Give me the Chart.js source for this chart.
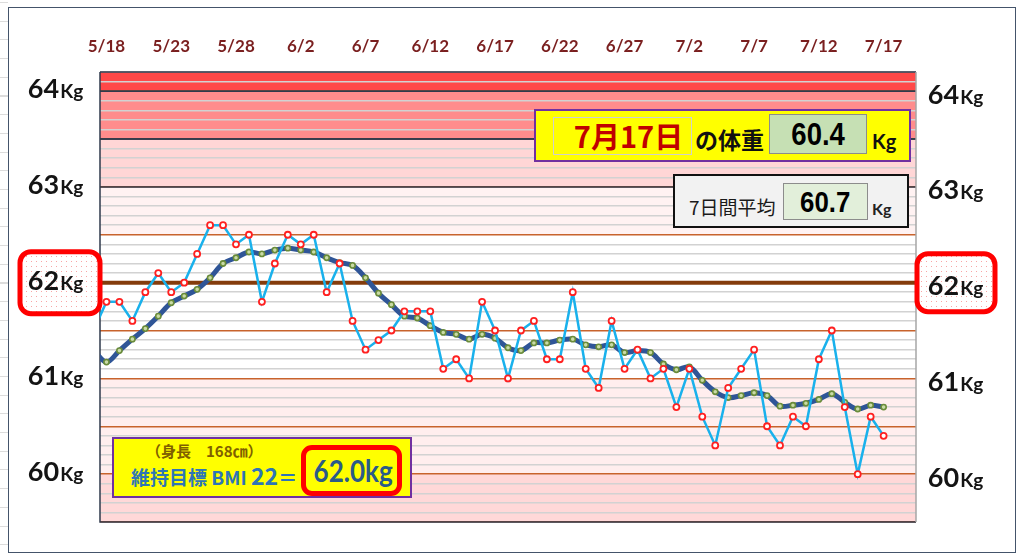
<!DOCTYPE html>
<html lang="ja">
<head>
<meta charset="utf-8">
<title>体重グラフ</title>
<script src="https://cdn.jsdelivr.net/npm/chart.js@4.4.1/dist/chart.umd.min.js"></script>
<style>
  body { margin: 0; background: #fff; }
  #wrap { position: relative; width: 1024px; height: 560px; overflow: hidden; font-family: "Noto Sans CJK JP", sans-serif; }
  #sheet { position: absolute; left: 0; top: 0; width: 8px; height: 560px;
    background: repeating-linear-gradient(to bottom, #dcdcdc 0 1px, transparent 1px 18.7px); background-position: 0 2px; }
  #frame { position: absolute; left: 8px; top: 7px; width: 1006px; height: 544px; border: 1.5px solid #44546a; }
  canvas { position: absolute; left: 0; top: 0; }
  .b { position: absolute; box-sizing: border-box; }
  .t { position: absolute; white-space: nowrap; }
  .num { font-family: "Liberation Sans", sans-serif; font-weight: bold; color: #000; text-align: center; }
  .num span { display: inline-block; transform: scaleX(0.86); }
</style>
</head>
<body>
<div id="wrap">
  <div id="sheet"></div>
  <div id="frame"></div>
  <canvas id="weight-chart" width="1024" height="560"></canvas>

  <!-- today's weight -->
  <div class="b" style="left:534px;top:109px;width:377px;height:53px;background:#ffff00;border:2px solid #7030a0;"></div>
  <div class="b t" style="left:553px;top:117px;width:139px;height:38px;border:1.5px solid #cfcfcf;line-height:35px;padding-left:12px;text-align:center;font-size:29px;font-weight:bold;color:#c00000;">7月17日</div>
  <div class="t" style="left:695px;top:124px;height:30px;line-height:30px;font-size:23px;font-weight:bold;color:#111;">の体重</div>
  <div class="b t num" style="left:769px;top:114px;width:98px;height:40px;background:#c6e0b4;border:1px solid #8c8c8c;line-height:38px;font-size:32px;"><span id="todayVal"></span></div>
  <div class="t" style="left:872px;top:128px;height:26px;line-height:26px;font-size:20px;font-weight:bold;color:#111;font-family:Lato,sans-serif;">Kg</div>

  <!-- 7 day average -->
  <div class="b" style="left:673px;top:174px;width:236px;height:54px;background:#f2f2f2;border:2.5px solid #111;"></div>
  <div class="t" style="left:689px;top:194px;height:26px;line-height:26px;font-size:19px;color:#1a1a1a;">7日間平均</div>
  <div class="b t num" style="left:783px;top:183px;width:85px;height:37px;background:#e2efda;border:1px solid #8c8c8c;line-height:35px;font-size:30px;"><span id="avgVal"></span></div>
  <div class="t" style="left:872px;top:199px;height:20px;line-height:20px;font-size:16px;font-weight:bold;color:#222;font-family:Lato,sans-serif;">Kg</div>

  <!-- BMI goal -->
  <div class="b" style="left:112px;top:437px;width:300px;height:61px;background:#ffff00;border:2px solid #7030a0;"></div>
  <div class="t" style="left:146px;top:441px;height:20px;line-height:20px;font-size:15px;font-weight:bold;color:#7f6000;">（身長　168㎝）</div>
  <div class="t" style="left:131px;top:460px;height:30px;line-height:30px;font-weight:bold;color:#2e75b6;font-size:19px;">維持目標 BMI <span style="font-size:23px;">22</span>＝</div>
  <div class="b t" style="left:301px;top:445px;width:101px;height:51px;border:5px solid #ff0000;border-radius:11px;line-height:40px;text-align:center;font-size:31px;font-weight:bold;color:#2a5b88;font-family:Lato,sans-serif;"><span style="display:inline-block;transform:scaleX(0.84);">62.0kg</span></div>
</div>

<script>
// dates 5/17 - 7/17 (5/17 sits just left of the plot)
const days = [
  "5/17","5/18","5/19","5/20","5/21","5/22","5/23","5/24","5/25","5/26","5/27","5/28","5/29","5/30","5/31",
  "6/1","6/2","6/3","6/4","6/5","6/6","6/7","6/8","6/9","6/10","6/11","6/12","6/13","6/14","6/15",
  "6/16","6/17","6/18","6/19","6/20","6/21","6/22","6/23","6/24","6/25","6/26","6/27","6/28","6/29","6/30",
  "7/1","7/2","7/3","7/4","7/5","7/6","7/7","7/8","7/9","7/10","7/11","7/12","7/13","7/14","7/15","7/16","7/17"
];
// daily weight (kg)
const weights = [
  61.5, 61.8, 61.8, 61.6, 61.9, 62.1, 61.9, 62.0, 62.3, 62.6, 62.6, 62.4, 62.5, 61.8, 62.2,
  62.5, 62.4, 62.5, 61.9, 62.2, 61.6, 61.3, 61.4, 61.5, 61.7, 61.7, 61.7, 61.1, 61.2, 61.0,
  61.8, 61.5, 61.0, 61.5, 61.6, 61.2, 61.2, 61.9, 61.1, 60.9, 61.6, 61.1, 61.3, 61.0, 61.1,
  60.7, 61.1, 60.6, 60.3, 60.9, 61.1, 61.3, 60.5, 60.3, 60.6, 60.5, 61.2, 61.5, 60.7, 60.0, 60.6, 60.4
];
// 7 day average (kg)
const avg7 = [
  61.30, 61.17, 61.29, 61.41, 61.52, 61.65, 61.79, 61.86, 61.93, 62.05, 62.20, 62.26, 62.32, 62.30, 62.34,
  62.36, 62.34, 62.32, 62.26, 62.21, 62.18, 62.05, 61.89, 61.77, 61.65, 61.63, 61.55, 61.48, 61.46, 61.41,
  61.46, 61.42, 61.32, 61.29, 61.37, 61.37, 61.40, 61.41, 61.35, 61.33, 61.35, 61.27, 61.29, 61.27, 61.15,
  61.09, 61.12, 60.98, 60.86, 60.80, 60.82, 60.85, 60.82, 60.71, 60.72, 60.74, 60.78, 60.84, 60.75, 60.68, 60.72, 60.70
];
const xTickLabels = ["5/18","5/23","5/28","6/2","6/7","6/12","6/17","6/22","6/27","7/2","7/7","7/12","7/17"];
const kgTicks = [64, 63, 62, 61, 60];
const goalKg = 62;

document.getElementById("todayVal").textContent = weights[weights.length - 1].toFixed(1);
document.getElementById("avgVal").textContent = avg7[avg7.length - 1].toFixed(1);

// coloured zones behind the grid [from, to, fill, dark edge]
const zones = [
  [64.0, 64.2, "#ff4848", true],
  [63.5, 64.0, "#ff8c8c", true],
  [63.0, 63.5, "#ffd6d6", true],
  [62.5, 63.0, "#fff2f2", false],
  [60.0, 61.0, "#ffeeee", false],
  [59.5, 60.0, "#ffd8d8", false]
];

const zonePlugin = {
  id: "zones",
  beforeDraw(chart) {
    const c = chart.ctx, a = chart.chartArea, y = chart.scales.y;
    zones.forEach(z => {
      const top = y.getPixelForValue(z[1]), bot = y.getPixelForValue(z[0]);
      c.fillStyle = z[2];
      c.fillRect(a.left, top, a.right - a.left, bot - top);
    });
  },
  beforeDatasetsDraw(chart) {
    const c = chart.ctx, a = chart.chartArea, y = chart.scales.y;
    c.save();
    c.strokeStyle = "#2f3a4c";
    c.lineWidth = 1.5;
    zones.forEach(z => {
      if (!z[3]) return;
      [z[0], z[1]].forEach(v => {
        const py = y.getPixelForValue(v);
        c.beginPath(); c.moveTo(a.left, py); c.lineTo(a.right, py); c.stroke();
      });
    });
    // plot frame
    c.beginPath(); c.moveTo(a.left, a.top); c.lineTo(a.left, a.bottom); c.lineTo(a.right, a.bottom); c.stroke();
    c.strokeStyle = "#a6a6a6";
    c.beginPath(); c.moveTo(a.right, a.top); c.lineTo(a.right, a.bottom); c.stroke();
    // goal line
    const gy = y.getPixelForValue(goalKg);
    c.strokeStyle = "#843c0c";
    c.lineWidth = 4;
    c.beginPath(); c.moveTo(a.left - 3, gy); c.lineTo(a.right + 4, gy); c.stroke();
    c.restore();
  }
};

function dotPattern(c) {
  const p = document.createElement("canvas");
  p.width = 5; p.height = 5;
  const pc = p.getContext("2d");
  pc.fillStyle = "#fff"; pc.fillRect(0, 0, 5, 5);
  pc.fillStyle = "#f7a6a6"; pc.fillRect(1, 1, 1, 1);
  return c.createPattern(p, "repeat");
}

function goalBox(c, x, y, w, h) {
  c.save();
  c.beginPath();
  c.roundRect(x, y, w, h, 11);
  c.fillStyle = dotPattern(c);
  c.fill();
  c.lineWidth = 5;
  c.strokeStyle = "#ff0000";
  c.stroke();
  c.restore();
}

function kgLabel(c, cx, base, v) {
  const big = "bold 27px Lato", small = "bold 19px Lato";
  const s1 = String(v), s2 = "Kg";
  c.font = big; const w1 = c.measureText(s1).width;
  c.font = small; const w2 = c.measureText(s2).width;
  const x0 = cx - (w1 + w2) / 2;
  c.fillStyle = "#141414";
  c.textBaseline = "alphabetic";
  c.textAlign = "left";
  c.font = big; c.fillText(s1, x0, base);
  c.font = small; c.fillText(s2, x0 + w1 + 1, base);
}

const labelPlugin = {
  id: "labels",
  afterDraw(chart) {
    const c = chart.ctx, x = chart.scales.x, y = chart.scales.y;
    c.save();
    kgTicks.forEach(v => {
      const py = y.getPixelForValue(v);
      if (v === goalKg) {
        goalBox(c, 20, py - 31, 80, 62);
        goalBox(c, 917, py - 29, 78, 58);
      }
      kgLabel(c, 55, py + 7, v);
      kgLabel(c, 955, py + 12.5, v);
    });
    c.font = "bold 17px Lato";
    c.fillStyle = "#7a1f1f";
    c.textAlign = "center";
    c.textBaseline = "middle";
    xTickLabels.forEach(d => {
      c.fillText(d, x.getPixelForValue(days.indexOf(d)), 47);
    });
    c.restore();
  }
};

new Chart("weight-chart", {
  type: "line",
  data: {
    datasets: [
      {
        label: "体重",
        data: weights.map((w, i) => ({ x: i, y: w })),
        borderColor: "#19b1ec",
        borderWidth: 2.5,
        pointRadius: 3,
        pointBorderWidth: 1.8,
        pointBorderColor: "#ff2020",
        pointBackgroundColor: "#ffffff",
        tension: 0,
        clip: 0
      },
      {
        label: "7日間平均",
        data: avg7.map((w, i) => ({ x: i, y: w })),
        borderColor: "#2f5597",
        borderWidth: 5,
        pointRadius: 2.6,
        pointBorderWidth: 1.6,
        pointBorderColor: "#6a8c3a",
        pointBackgroundColor: "#c9dba6",
        tension: 0.35,
        clip: 0
      }
    ]
  },
  options: {
    responsive: false,
    animation: false,
    events: [],
    layout: { padding: { left: 100, top: 72, right: 108, bottom: 38 } },
    plugins: { legend: { display: false }, tooltip: { enabled: false } },
    scales: {
      x: { type: "linear", min: 0.5, max: 63.5, display: false },
      y: {
        min: 59.5,
        max: 64.2,
        border: { display: false },
        ticks: { display: false, stepSize: 0.1, maxTicksLimit: 100 },
        grid: {
          drawTicks: false,
          lineWidth: 1.5,
          color: ctx => {
            const v = Math.round(ctx.tick.value * 10);
            if (v === goalKg * 10) return "rgba(0,0,0,0)";
            return v % 5 === 0 ? "#c8632c" : "#d2d2d2";
          }
        }
      }
    }
  },
  plugins: [zonePlugin, labelPlugin]
});
</script>
</body>
</html>
